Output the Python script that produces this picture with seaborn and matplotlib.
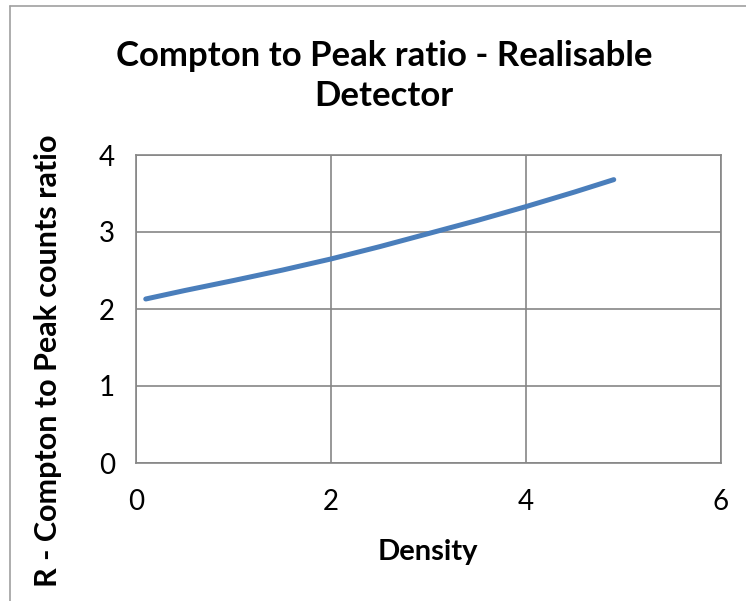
import matplotlib
matplotlib.use("Agg")
import matplotlib.pyplot as plt
import seaborn as sns
import pandas as pd
from matplotlib.lines import Line2D

# values
density = [0.1, 0.5, 1.0, 1.5, 2.0, 2.5, 3.0, 3.5, 4.0, 4.5, 4.9]
ratio = [2.13, 2.24, 2.37, 2.505, 2.65, 2.81, 2.98, 3.15, 3.33, 3.52, 3.68]
x_ticks = [0, 2, 4, 6]
y_ticks = [0, 1, 2, 3, 4]

df = pd.DataFrame({'Density': density, 'R': ratio})

sns.set_style('white')
plt.rcParams['font.family'] = ['Lato', 'DejaVu Sans']

grid_col = '#868686'
W, H = 746, 601
fig = plt.figure(figsize=(W / 100, H / 100), dpi=100)
ax = fig.add_axes([136 / W, 1 - 463 / H, 585 / W, 308 / H])

sns.lineplot(data=df, x='Density', y='R', ax=ax, color='#4A7EBB',
             linewidth=3.6, solid_capstyle='round')

ax.set_xlim(0, 6)
ax.set_ylim(0, 4)
ax.set_xticks(x_ticks)
ax.set_yticks(y_ticks)
ax.grid(True, color=grid_col, linewidth=1.2)
for s in ax.spines.values():
    s.set_color(grid_col)
    s.set_linewidth(1.2)
ax.tick_params(axis='both', direction='out', length=8, width=1.2,
               color=grid_col, labelsize=20, labelcolor='black', pad=7)
ax.tick_params(axis='x', pad=11)
ax.set_xlabel('')
ax.set_ylabel('')

fig.text(384 / W, 1 - 76 / H, 'Compton to Peak ratio - Realisable\nDetector',
         ha='center', va='center', fontsize=25, fontweight='bold',
         linespacing=1.3, color='black')
fig.text(428 / W, 1 - 552 / H, 'Density', ha='center', va='center',
         fontsize=21, fontweight='bold', color='black')
fig.text(48 / W, 1 - 361 / H, 'R - Compton to Peak counts ratio',
         ha='center', va='center', rotation=90, fontsize=22,
         fontweight='bold', color='black')

# outer chart border (left and top edges visible)
fig.add_artist(Line2D([10 / W, 10 / W], [0, 1 - 6 / H], color='#a0a0a0',
                      linewidth=1.2, transform=fig.transFigure))
fig.add_artist(Line2D([10 / W, 1], [1 - 6 / H, 1 - 6 / H], color='#a0a0a0',
                      linewidth=1.2, transform=fig.transFigure))

fig.savefig('out.png', dpi=100)
